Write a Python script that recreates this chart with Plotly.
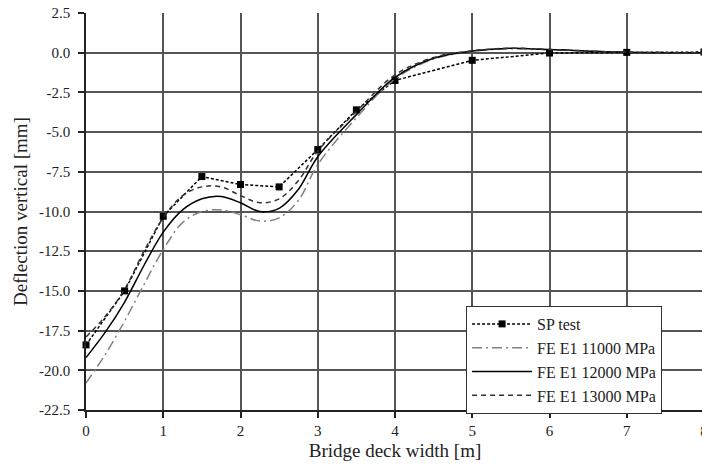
import plotly.graph_objects as go

# SP test measurements
sp_x = [0, 0.5, 1, 1.5, 2, 2.5, 3, 3.5, 4, 5, 6, 7, 8]
sp_y = [-18.4, -15.0, -10.3, -7.8, -8.3, -8.45, -6.1, -3.6, -1.75, -0.48, -0.02, 0.02, 0.04]

# FE model curves
fe_x = [0, 0.25, 0.5, 0.75, 1, 1.25, 1.5, 1.75, 2, 2.25, 2.5, 2.75, 3, 3.5, 4, 4.5, 5, 5.5, 6, 7, 8]
fe_11000 = [-20.8, -19.0, -16.9, -14.6, -12.4, -10.7, -10.0, -9.9, -10.2, -10.6, -10.4, -9.3, -7.05,
            -4.1, -1.65, -0.4, 0.08, 0.25, 0.2, 0.03, 0.0]
fe_12000 = [-19.2, -17.6, -15.7, -13.4, -11.3, -9.9, -9.2, -9.05, -9.45, -10.0, -9.8, -8.6, -6.55,
            -3.9, -1.55, -0.35, 0.1, 0.28, 0.2, 0.03, 0.0]
fe_13000 = [-17.9, -16.6, -14.9, -12.5, -10.4, -9.0, -8.45, -8.45, -9.0, -9.45, -9.2, -8.05, -6.2,
            -3.7, -1.4, -0.3, 0.12, 0.28, 0.2, 0.03, 0.0]

x_ticks = [0, 1, 2, 3, 4, 5, 6, 7, 8]
y_ticks = [2.5, 0.0, -2.5, -5.0, -7.5, -10.0, -12.5, -15.0, -17.5, -20.0, -22.5]

FONT = "Liberation Serif"

fig = go.Figure()
fig.add_trace(go.Scatter(
    x=sp_x, y=sp_y, name="SP test", mode="lines+markers", cliponaxis=False,
    line=dict(color="black", width=1.5, dash="3px,2px"),
    marker=dict(symbol="square", size=7, color="black")))
fig.add_trace(go.Scatter(
    x=fe_x, y=fe_11000, name="FE E1 11000 MPa", mode="lines",
    line=dict(color="#808080", width=1.5, dash="10px,4px,2px,4px", shape="spline", smoothing=1.0)))
fig.add_trace(go.Scatter(
    x=fe_x, y=fe_12000, name="FE E1 12000 MPa", mode="lines",
    line=dict(color="black", width=1.5, shape="spline", smoothing=1.0)))
fig.add_trace(go.Scatter(
    x=fe_x, y=fe_13000, name="FE E1 13000 MPa", mode="lines",
    line=dict(color="#333333", width=1.5, dash="5px,4px", shape="spline", smoothing=1.0)))

fig.update_layout(
    width=704, height=468,
    margin=dict(l=86, r=0, t=13, b=58),
    plot_bgcolor="white", paper_bgcolor="white",
    font=dict(family=FONT, color="#222", size=15),
    showlegend=True,
    legend=dict(x=0.615, y=0.262, xanchor="left", yanchor="top",
                bgcolor="white", bordercolor="#333", borderwidth=1,
                font=dict(family=FONT, size=16, color="#222"),
                itemwidth=60, tracegroupgap=0),
)
fig.update_xaxes(
    range=[0, 8], tickvals=x_ticks, ticktext=[str(v) for v in x_ticks],
    showgrid=True, gridcolor="#555", gridwidth=1.5,
    showline=True, linecolor="#222", linewidth=1.5,
    ticks="outside", ticklen=6, tickcolor="#222", tickwidth=1.5,
    zeroline=False, automargin=False, ticklabeloverflow="allow",
    title=dict(text="Bridge deck width [m]", font=dict(family=FONT, size=19), standoff=6),
    tickfont=dict(family=FONT, size=15),
)
fig.update_yaxes(
    range=[-22.5, 2.5], tickvals=y_ticks, ticktext=[f"{v:.1f}" for v in y_ticks],
    showgrid=True, gridcolor="#555", gridwidth=1.5,
    showline=True, linecolor="#222", linewidth=1.5,
    ticks="outside", ticklen=6, tickcolor="#222", tickwidth=1.5,
    zeroline=False, automargin=False, ticklabeloverflow="allow", ticklabelstandoff=5,
    title=dict(text="Deflection vertical [mm]", font=dict(family=FONT, size=19), standoff=6),
    tickfont=dict(family=FONT, size=15),
)

fig.write_html(
    "out.html",
    config={"displayModeBar": False},
    post_script="document.body.style.margin='0px';document.documentElement.style.overflow='hidden';document.body.style.overflow='hidden';",
)
